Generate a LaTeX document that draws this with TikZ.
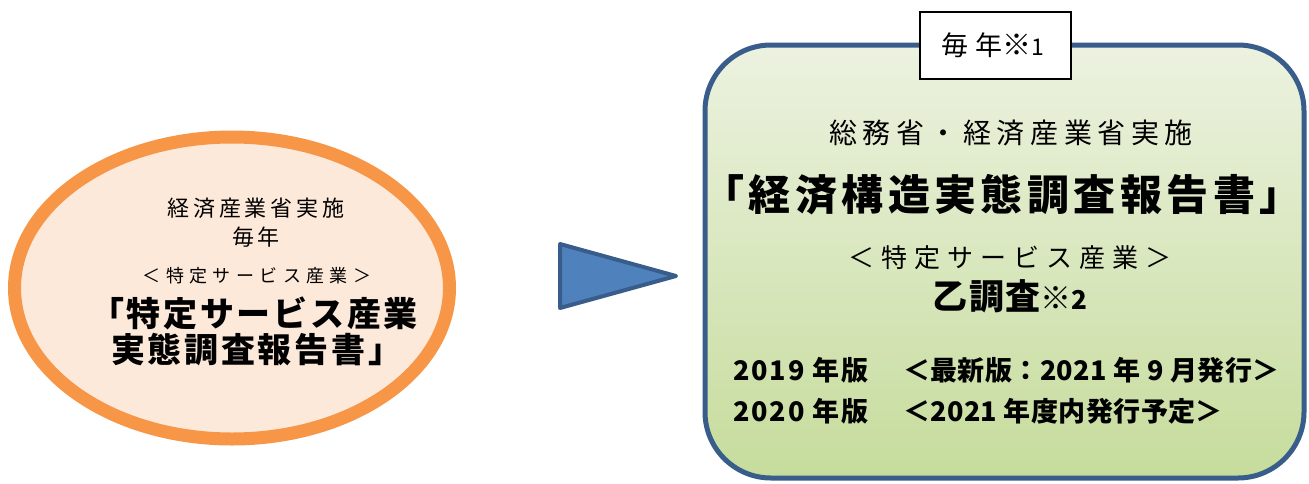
\documentclass[tikz,border=0pt]{standalone}
\usepackage{fontspec}
\usetikzlibrary{shapes.geometric}
\setmainfont{Noto Sans CJK JP}
\newcommand{\jpf}[2]{\fontsize{#1}{#1}\selectfont\addfontfeatures{LetterSpace=#2}}
\definecolor{ellfill}{RGB}{253,233,217}
\definecolor{ellline}{RGB}{247,150,70}
\definecolor{trifill}{RGB}{79,129,189}
\definecolor{triline}{RGB}{56,93,138}
\definecolor{boxtop}{RGB}{236,242,224}
\definecolor{boxbot}{RGB}{198,220,156}
\tikzset{
  txt/.style={inner sep=0pt, outer sep=0pt, text=black},
}
\begin{document}
\begin{tikzpicture}[x=1pt,y=-1pt]
\useasboundingbox (0,0) rectangle (1309,483);
% left ellipse
\node[ellipse, draw=ellline, fill=ellfill, line width=13pt, minimum width=435pt, minimum height=302pt, inner sep=0pt] (ell) at (232,288) {};
\node[txt] (l1) at (256,208) {\jpf{22}{18}経済産業省実施};
\node[txt] (l2) at (256,237) {\jpf{22}{18}毎年};
\node[txt] (l3) at (257,276) {\jpf{18}{30}＜特定サービス産業＞};
\node[txt, anchor=west] (l4) at (90,313) {\bfseries\jpf{34}{8}「特定サービス産業};
\node[txt, anchor=west] (l5) at (111,350) {\bfseries\jpf{34}{8}実態調査報告書」};
% arrow triangle
\draw[fill=trifill, draw=triline, line width=4pt, line join=round] (560,244) -- (560,308) -- (676,276) -- cycle;
% right box
\node[draw=triline, line width=5pt, rounded corners=66pt, top color=boxtop, bottom color=boxbot, minimum width=599pt, minimum height=433pt, inner sep=0pt] (box) at (1004.5,261.5) {};
\node[draw=black, fill=white, line width=1.5pt, minimum width=151pt, minimum height=67pt, inner sep=0pt] (tag) at (995.5,45.5) {};
\node[txt] (tagtext) at (993,45) {\jpf{27}{26}毎年\jpf{29}{0}※\jpf{23}{0}1};
\node[txt] (r1) at (1011,133) {\jpf{28}{20}総務省・経済産業省実施};
\node[txt] (r2) at (1002,195) {\bfseries\jpf{42}{10.5}「経済構造実態調査報告書」};
\node[txt] (r3) at (1010,258) {\jpf{26}{27}＜特定サービス産業＞};
\node[txt] (r4) at (1010,296) {\bfseries\jpf{35}{5}乙調査\jpf{31}{0}※\jpf{26}{0}2};
\node[txt, anchor=west] (r5a) at (733,370) {\bfseries\jpf{27}{7}2019 年版};
\node[txt, anchor=west] (r5b) at (903,370) {\bfseries\jpf{27}{1.5}＜最新版：2021 年 9 月発行＞};
\node[txt, anchor=west] (r6a) at (733,411) {\bfseries\jpf{27}{7}2020 年版};
\node[txt, anchor=west] (r6b) at (903,411) {\bfseries\jpf{27}{1.5}＜2021 年度内発行予定＞};
\end{tikzpicture}
\end{document}
